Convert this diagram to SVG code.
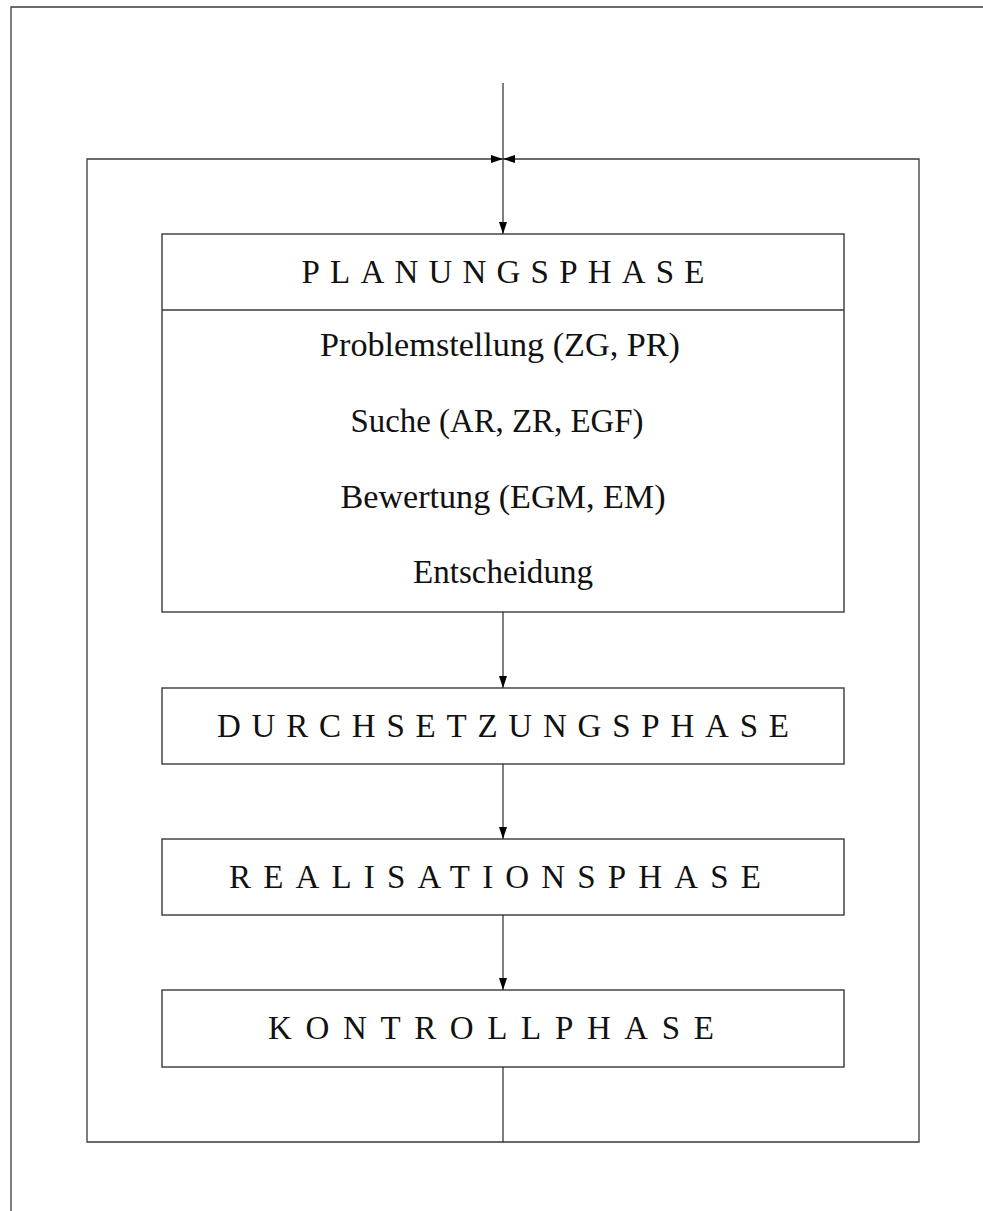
<svg xmlns="http://www.w3.org/2000/svg" width="983" height="1211" viewBox="0 0 983 1211">
  <style>
    .ln { fill: none; stroke: #3a3a3a; stroke-width: 1.3; }
    .box { fill: #ffffff; stroke: #2a2a2a; stroke-width: 1.3; }
    .t { font-family: "Liberation Serif", "DejaVu Serif", serif; font-size: 33px; fill: #111111; text-anchor: middle; }
  </style>
  <defs>
    <marker id="arr" viewBox="0 0 12 8" refX="12" refY="4" markerWidth="12" markerHeight="8" markerUnits="userSpaceOnUse" orient="auto">
      <path d="M0,0 L12,4 L0,8 z" fill="#000000"/>
    </marker>
  </defs>

  <!-- page frame -->
  <path class="ln" d="M11,1211 V7 H983"/>

  <!-- connectors -->
  <g id="connectors">
    <path class="ln" d="M503,83 V234" marker-end="url(#arr)"/>
    <path class="ln" d="M503,1067 V1142 H87 V159 H503" marker-end="url(#arr)"/>
    <path class="ln" d="M503,1142 H919 V159 H503" marker-end="url(#arr)"/>
    <path class="ln" d="M503,612 V688" marker-end="url(#arr)"/>
    <path class="ln" d="M503,764 V839" marker-end="url(#arr)"/>
    <path class="ln" d="M503,915 V990" marker-end="url(#arr)"/>
  </g>

  <!-- planning phase with its steps -->
  <g id="planungsphase">
    <rect class="box" x="162" y="234" width="682" height="378"/>
    <line class="ln" x1="162" y1="310" x2="844" y2="310"/>
    <text class="t" x="503" y="283" textLength="403" lengthAdjust="spacing">PLANUNGSPHASE</text>
    <text class="t" x="500" y="356" textLength="360" lengthAdjust="spacingAndGlyphs">Problemstellung (ZG, PR)</text>
    <text class="t" x="497" y="432" textLength="293" lengthAdjust="spacingAndGlyphs">Suche (AR, ZR, EGF)</text>
    <text class="t" x="503" y="508" textLength="325" lengthAdjust="spacingAndGlyphs">Bewertung (EGM, EM)</text>
    <text class="t" x="503" y="583" textLength="180" lengthAdjust="spacingAndGlyphs">Entscheidung</text>
  </g>

  <g id="durchsetzungsphase">
    <rect class="box" x="162" y="688" width="682" height="76"/>
    <text class="t" x="503" y="737" textLength="572" lengthAdjust="spacing">DURCHSETZUNGSPHASE</text>
  </g>

  <g id="realisationsphase">
    <rect class="box" x="162" y="839" width="682" height="76"/>
    <text class="t" x="495" y="888" textLength="532" lengthAdjust="spacing">REALISATIONSPHASE</text>
  </g>

  <g id="kontrollphase">
    <rect class="box" x="162" y="990" width="682" height="77"/>
    <text class="t" x="491" y="1039" textLength="446" lengthAdjust="spacing">KONTROLLPHASE</text>
  </g>
</svg>
